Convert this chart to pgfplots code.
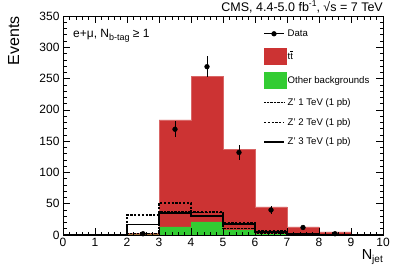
\documentclass[border=0pt]{standalone}
\usepackage{fontspec}
\setmainfont{Liberation Sans}
\usepackage{pgfplots}
\pgfplotsset{compat=1.18}
\definecolor{cmsred}{RGB}{204,51,51}
\definecolor{cmsgreen}{RGB}{51,204,51}
\newcommand{\tbar}{\ensuremath{\overline{\hbox{t}}}}
\begin{document}
\begin{tikzpicture}
\begin{axis}[
  name=main,
  width=320bp, height=219bp, scale only axis,
  xmin=0, xmax=10, ymin=0, ymax=350,
  xtick={0,1,...,10}, ytick={0,50,...,350},
  minor x tick num=4, minor y tick num=4,
  tick align=inside, xtick pos=both, ytick pos=both,
  xticklabel pos=lower, yticklabel pos=left,
  major tick length=7bp, minor tick length=3.5bp,
  axis on top,
  axis line style={line width=0.8bp},
  every tick/.style={black, line width=0.6bp},
  tick label style={font=\fontsize{12bp}{14bp}\selectfont},
  /pgf/number format/assume math mode=true,
  legend style={at={(rel axis cs:0.625,0.945)}, anchor=north west, draw=none, fill=none,
     font=\fontsize{9.6bp}{11bp}\selectfont, row sep=8.3bp, inner sep=0pt,
     nodes={inner sep=1.5bp}},
  legend cell align=left,
]
% legend
\addlegendimage{legend image code/.code={\draw[black, line width=0.9bp] (0bp,0bp) -- (20bp,0bp); \fill[black] (10bp,0bp) circle (2.4bp);}}
\addlegendentry{Data}
\addlegendimage{legend image code/.code={\fill[cmsred] (0bp,-8bp) rectangle (22bp,8bp);}}
\addlegendentry{t\tbar}
\addlegendimage{legend image code/.code={\fill[cmsgreen] (0bp,-8bp) rectangle (22bp,8bp);}}
\addlegendentry{Other backgrounds}
\addlegendimage{legend image code/.code={\draw[black, line width=1bp, dash pattern=on 0.7bp off 0.7bp] (0bp,0bp) -- (20bp,0bp);}}
\addlegendentry{Z' 1 TeV (1 pb)}
\addlegendimage{legend image code/.code={\draw[black, line width=1.6bp, dash pattern=on 2.2bp off 1.6bp] (0bp,0bp) -- (20bp,0bp);}}
\addlegendentry{Z' 2 TeV (1 pb)}
\addlegendimage{legend image code/.code={\draw[black, line width=1.6bp] (0bp,0bp) -- (20bp,0bp);}}
\addlegendentry{Z' 3 TeV (1 pb)}

% ttbar (total stack)
\addplot[forget plot, const plot mark left, fill=cmsred, draw=cmsred!75!white, line width=0.5bp]
  coordinates {(2,3) (3,184) (4,254) (5,137) (6,45) (7,13) (8,5) (9,5)} \closedcycle;
% other backgrounds
\addplot[forget plot, const plot mark left, fill=cmsgreen, draw=none]
  coordinates {(2,0.5) (3,13) (4,21) (5,8) (6,1.5) (7,0.5) (8,0.5)} \closedcycle;
% Z' 1 TeV
\addplot[forget plot, const plot mark left, black, line width=1.2bp, dash pattern=on 0.7bp off 0.7bp]
  coordinates {(0,0) (1,0) (2,3) (3,38) (4,36) (5,11) (6,3) (7,1) (8,0) (9,0) (10,0)};
% Z' 2 TeV
\addplot[forget plot, const plot mark left, black, line width=1.6bp, dash pattern=on 2.2bp off 1.6bp]
  coordinates {(0,0) (1,0) (2,32) (3,51) (4,37) (5,19) (6,6) (7,2) (8,0.5) (9,0) (10,0)};
% Z' 3 TeV
\addplot[forget plot, const plot mark left, black, line width=1.6bp]
  coordinates {(0,0) (1,0) (2,17) (3,35) (4,30) (5,18) (6,5) (7,2) (8,0.5) (9,0) (10,0)};
% data
\addplot[forget plot, only marks, black, mark=*, mark size=2.4bp,
  error bars/.cd, y dir=both, y explicit, error bar style={line width=0.9bp}, error mark=none]
  coordinates {(2.5,2) +- (0,1.4) (3.5,169) +- (0,13) (4.5,269) +- (0,16.4) (5.5,132) +- (0,11.5)
               (6.5,40) +- (0,6.3) (7.5,12) +- (0,3.5) (8.5,2) +- (0,1.4)};

\node[anchor=north west, font=\fontsize{12bp}{14bp}\selectfont, inner sep=0pt] at ([xshift=10bp,yshift=-13bp]rel axis cs:0,1)
  {e+μ, N\raisebox{-0.45ex}{\fontsize{9bp}{10bp}\selectfont b-tag} ≥ 1};
\end{axis}
\node[anchor=south east, font=\fontsize{12.5bp}{14bp}\selectfont, inner sep=0pt] at ([yshift=3bp]main.north east)
  {CMS, 4.4-5.0 fb\raisebox{0.7ex}{\fontsize{8.5bp}{9bp}\selectfont -1}, √s = 7 TeV};
\node[anchor=north east, rotate=90, font=\fontsize{16bp}{18bp}\selectfont, inner sep=0pt] at ([xshift=-55bp]main.north west) {Events};
\node[anchor=north east, font=\fontsize{14.5bp}{16bp}\selectfont, inner sep=0pt] at ([yshift=-14bp]main.south east)
  {N\raisebox{-0.45ex}{\fontsize{10bp}{11bp}\selectfont jet}};
\pgfresetboundingbox
\path (main.south west) ++(-63bp,-35bp) coordinate (bl);
\path (bl) rectangle ++(399bp,270bp);
\end{tikzpicture}
\end{document}
